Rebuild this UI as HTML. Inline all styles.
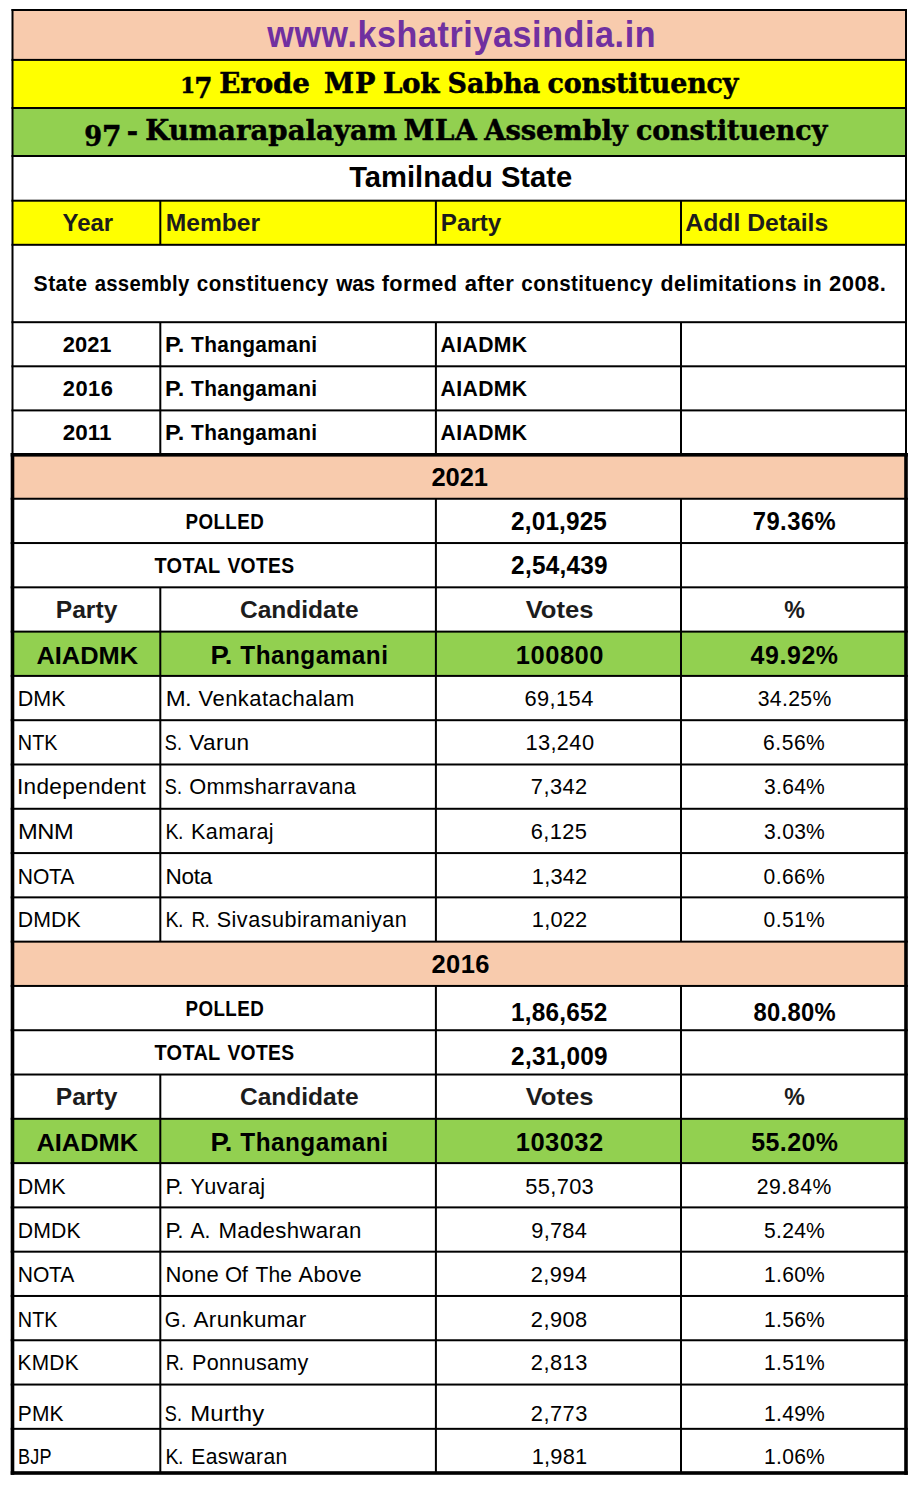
<!DOCTYPE html>
<html><head><meta charset="utf-8"><title>Kumarapalayam MLA Assembly constituency</title>
<style>
html,body{margin:0;padding:0;background:#fff;}
svg{display:block;}
text{white-space:pre;}
.r{font-family:'Liberation Sans',Arial,sans-serif;font-weight:normal;}
.b{font-family:'Liberation Sans',Arial,sans-serif;font-weight:bold;}
.g{font-family:'DejaVu Serif','Liberation Serif',serif;font-weight:bold;}
</style>
</head><body>
<svg width="916" height="1503" viewBox="0 0 916 1503">
<rect x="0" y="0" width="916" height="1503" fill="#fff"/>
<rect x="12.5" y="10" width="893.5" height="49.9" fill="#F8CBAD"/>
<rect x="12.5" y="59.9" width="893.5" height="48.1" fill="#FFFF00"/>
<rect x="12.5" y="108" width="893.5" height="48" fill="#92D050"/>
<rect x="12.5" y="200.7" width="893.5" height="44.1" fill="#FFFF00"/>
<rect x="12.5" y="454.8" width="893.5" height="43.95" fill="#F8CBAD"/>
<rect x="12.5" y="631.62" width="893.5" height="44.29" fill="#92D050"/>
<rect x="12.5" y="941.65" width="893.5" height="44.29" fill="#F8CBAD"/>
<rect x="12.5" y="1118.81" width="893.5" height="44.29" fill="#92D050"/>
<rect x="11.5" y="9" width="895.5" height="2"/>
<rect x="11.5" y="58.9" width="895.5" height="2"/>
<rect x="11.5" y="107" width="895.5" height="2"/>
<rect x="11.5" y="155" width="895.5" height="2"/>
<rect x="11.5" y="199.7" width="895.5" height="2"/>
<rect x="11.5" y="243.8" width="895.5" height="2"/>
<rect x="11.5" y="321.2" width="895.5" height="2"/>
<rect x="11.5" y="365.3" width="895.5" height="2"/>
<rect x="11.5" y="409.4" width="895.5" height="2"/>
<rect x="10.7" y="453" width="897.1" height="3.6"/>
<rect x="10.7" y="497.75" width="897.1" height="2"/>
<rect x="10.7" y="542.04" width="897.1" height="2"/>
<rect x="10.7" y="586.33" width="897.1" height="2"/>
<rect x="10.7" y="630.62" width="897.1" height="2"/>
<rect x="10.7" y="674.91" width="897.1" height="2"/>
<rect x="10.7" y="719.2" width="897.1" height="2"/>
<rect x="10.7" y="763.49" width="897.1" height="2"/>
<rect x="10.7" y="807.78" width="897.1" height="2"/>
<rect x="10.7" y="852.07" width="897.1" height="2"/>
<rect x="10.7" y="896.36" width="897.1" height="2"/>
<rect x="10.7" y="940.65" width="897.1" height="2"/>
<rect x="10.7" y="984.94" width="897.1" height="2"/>
<rect x="10.7" y="1029.23" width="897.1" height="2"/>
<rect x="10.7" y="1073.52" width="897.1" height="2"/>
<rect x="10.7" y="1117.81" width="897.1" height="2"/>
<rect x="10.7" y="1162.1" width="897.1" height="2"/>
<rect x="10.7" y="1206.39" width="897.1" height="2"/>
<rect x="10.7" y="1250.68" width="897.1" height="2"/>
<rect x="10.7" y="1294.97" width="897.1" height="2"/>
<rect x="10.7" y="1339.26" width="897.1" height="2"/>
<rect x="10.7" y="1383.55" width="897.1" height="2"/>
<rect x="10.7" y="1427.84" width="897.1" height="2"/>
<rect x="10.7" y="1471.2" width="897.1" height="3.6"/>
<rect x="11.5" y="9" width="2" height="445.8"/>
<rect x="905" y="9" width="2" height="445.8"/>
<rect x="10.7" y="453" width="3.6" height="1021.8"/>
<rect x="904.2" y="453" width="3.6" height="1021.8"/>
<rect x="159.3" y="200.7" width="2" height="44.1"/>
<rect x="159.3" y="322.2" width="2" height="132.6"/>
<rect x="434.9" y="200.7" width="2" height="44.1"/>
<rect x="434.9" y="322.2" width="2" height="132.6"/>
<rect x="680" y="200.7" width="2" height="44.1"/>
<rect x="680" y="322.2" width="2" height="132.6"/>
<rect x="159.3" y="587.33" width="2" height="354.32"/>
<rect x="159.3" y="1074.52" width="2" height="398.48"/>
<rect x="434.9" y="498.75" width="2" height="442.9"/>
<rect x="434.9" y="985.94" width="2" height="487.06"/>
<rect x="680" y="498.75" width="2" height="442.9"/>
<rect x="680" y="985.94" width="2" height="487.06"/>
<text class="b" transform="scale(0.939,1)" x="284.71" y="46.6" font-size="36.29" fill="#7030A0" textLength="413.41" lengthAdjust="spacing">www.kshatriyasindia.in</text>
<text class="g" x="180.35" y="92.8" font-size="22.1" stroke="#000" stroke-width="0.5" textLength="14.99" lengthAdjust="spacingAndGlyphs">1</text>
<text class="g" x="194.16" y="97.7" font-size="28.6" stroke="#000" stroke-width="0.5" textLength="18.28" lengthAdjust="spacingAndGlyphs">7</text>
<text class="g" transform="scale(1.0158,1)" x="215.84" y="92.6" font-size="27.3" stroke="#000" stroke-width="0.5" textLength="89.23" lengthAdjust="spacing">Erode</text>
<text class="g" transform="scale(0.9968,1)" x="325.16" y="92.6" font-size="27.3" stroke="#000" stroke-width="0.5" textLength="51.56" lengthAdjust="spacing">MP</text>
<text class="g" transform="scale(1.0172,1)" x="376.49" y="92.6" font-size="27.3" stroke="#000" stroke-width="0.5" textLength="55.55" lengthAdjust="spacing">Lok</text>
<text class="g" transform="scale(0.9874,1)" x="453.23" y="92.6" font-size="27.3" stroke="#000" stroke-width="0.5" textLength="93.97" lengthAdjust="spacing">Sabha</text>
<text class="g" transform="scale(0.9842,1)" x="556.31" y="92.6" font-size="27.3" stroke="#000" stroke-width="0.5" textLength="193.99" lengthAdjust="spacing">constituency</text>
<text class="g" x="84.2" y="145.7" font-size="28.6" stroke="#000" stroke-width="0.5" textLength="17.91" lengthAdjust="spacingAndGlyphs">9</text>
<text class="g" x="101.94" y="145.7" font-size="28.6" stroke="#000" stroke-width="0.5" textLength="19.52" lengthAdjust="spacingAndGlyphs">7</text>
<text class="g" x="126.78" y="140.5" font-size="27.3" stroke="#000" stroke-width="0.5" textLength="11.32" lengthAdjust="spacingAndGlyphs">-</text>
<text class="g" transform="scale(1.012,1)" x="143.59" y="140.5" font-size="27.3" stroke="#000" stroke-width="0.5" textLength="248.81" lengthAdjust="spacing">Kumarapalayam</text>
<text class="g" transform="scale(1.0251,1)" x="393.54" y="140.5" font-size="27.3" stroke="#000" stroke-width="0.5" textLength="71.46" lengthAdjust="spacing">MLA</text>
<text class="g" transform="scale(1.0062,1)" x="481.2" y="140.5" font-size="27.3" stroke="#000" stroke-width="0.5" textLength="142.75" lengthAdjust="spacing">Assembly</text>
<text class="g" transform="scale(0.9842,1)" x="646.12" y="140.5" font-size="27.3" stroke="#000" stroke-width="0.5" textLength="194.41" lengthAdjust="spacing">constituency</text>
<text class="b" x="349.2" y="187.4" font-size="29.33" textLength="223.01" lengthAdjust="spacingAndGlyphs">Tamilnadu State</text>
<text class="b" x="62.5" y="231.3" font-size="24" fill="#1c1c1c" textLength="50.64" lengthAdjust="spacingAndGlyphs">Year</text>
<text class="b" x="165.67" y="231.3" font-size="24" fill="#1c1c1c" textLength="94.48" lengthAdjust="spacingAndGlyphs">Member</text>
<text class="b" x="440.79" y="231.3" font-size="24" fill="#1c1c1c" textLength="60.55" lengthAdjust="spacingAndGlyphs">Party</text>
<text class="b" x="685.3" y="231.3" font-size="24" fill="#1c1c1c" textLength="142.96" lengthAdjust="spacingAndGlyphs">Addl Details</text>
<text class="b" transform="scale(0.9313,1)" x="36.08" y="290.6" font-size="22.8" textLength="57.4" lengthAdjust="spacing">State</text>
<text class="b" transform="scale(0.8924,1)" x="106.09" y="290.6" font-size="22.8" textLength="105.94" lengthAdjust="spacing">assembly</text>
<text class="b" transform="scale(0.9033,1)" x="217.86" y="290.6" font-size="22.8" textLength="145.54" lengthAdjust="spacing">constituency</text>
<text class="b" transform="scale(0.9122,1)" x="368.58" y="290.6" font-size="22.8" textLength="42.71" lengthAdjust="spacing">was</text>
<text class="b" transform="scale(0.9515,1)" x="401.3" y="290.6" font-size="22.8" textLength="78.97" lengthAdjust="spacing">formed</text>
<text class="b" transform="scale(0.9657,1)" x="481.14" y="290.6" font-size="22.8" textLength="50.87" lengthAdjust="spacing">after</text>
<text class="b" transform="scale(0.9033,1)" x="577.13" y="290.6" font-size="22.8" textLength="145.54" lengthAdjust="spacing">constituency</text>
<text class="b" transform="scale(0.937,1)" x="704.91" y="290.6" font-size="22.8" textLength="145.18" lengthAdjust="spacing">delimitations</text>
<text class="b" transform="scale(0.9267,1)" x="866.6" y="290.6" font-size="22.8" textLength="20.02" lengthAdjust="spacing">in</text>
<text class="b" transform="scale(0.9653,1)" x="858.92" y="290.6" font-size="22.8" textLength="58.84" lengthAdjust="spacing">2008.</text>
<text class="b" transform="scale(0.9594,1)" x="65.5" y="351.8" font-size="22.8" textLength="50.7" lengthAdjust="spacing">2021</text>
<text class="b" transform="scale(1.0314,1)" x="160.09" y="351.8" font-size="22.8" textLength="18.6" lengthAdjust="spacing">P.</text>
<text class="b" transform="scale(0.915,1)" x="208.8" y="351.8" font-size="22.8" textLength="137.75" lengthAdjust="spacing">Thangamani</text>
<text class="b" transform="scale(0.9291,1)" x="474.15" y="351.8" font-size="22.8" textLength="93.18" lengthAdjust="spacing">AIADMK</text>
<text class="b" transform="scale(0.9594,1)" x="65.5" y="396.4" font-size="22.8" textLength="52.09" lengthAdjust="spacing">2016</text>
<text class="b" transform="scale(1.0314,1)" x="160.09" y="396.4" font-size="22.8" textLength="18.6" lengthAdjust="spacing">P.</text>
<text class="b" transform="scale(0.915,1)" x="208.8" y="396.4" font-size="22.8" textLength="137.75" lengthAdjust="spacing">Thangamani</text>
<text class="b" transform="scale(0.9291,1)" x="474.15" y="396.4" font-size="22.8" textLength="93.18" lengthAdjust="spacing">AIADMK</text>
<text class="b" transform="scale(0.9838,1)" x="63.88" y="440.5" font-size="22.8" textLength="49.43" lengthAdjust="spacing">2011</text>
<text class="b" transform="scale(1.0314,1)" x="160.09" y="440.5" font-size="22.8" textLength="18.6" lengthAdjust="spacing">P.</text>
<text class="b" transform="scale(0.915,1)" x="208.8" y="440.5" font-size="22.8" textLength="137.75" lengthAdjust="spacing">Thangamani</text>
<text class="b" transform="scale(0.9291,1)" x="474.15" y="440.5" font-size="22.8" textLength="93.18" lengthAdjust="spacing">AIADMK</text>
<text class="b" transform="scale(0.9595,1)" x="449.71" y="485.6" font-size="26.6" textLength="58.92" lengthAdjust="spacing">2021</text>
<text class="b" transform="scale(0.8235,1)" x="225.31" y="529.24" font-size="22.8" textLength="94.95" lengthAdjust="spacing">POLLED</text>
<text class="b" transform="scale(0.9616,1)" x="531.54" y="529.64" font-size="25.34" textLength="99.59" lengthAdjust="spacing">2,01,925</text>
<text class="b" transform="scale(0.9382,1)" x="802.31" y="529.64" font-size="25.34" textLength="88.45" lengthAdjust="spacing">79.36%</text>
<text class="b" transform="scale(0.8757,1)" x="176.45" y="572.83" font-size="22.8" textLength="75.07" lengthAdjust="spacing">TOTAL</text>
<text class="b" transform="scale(0.8458,1)" x="268.84" y="572.83" font-size="22.8" textLength="78.96" lengthAdjust="spacing">VOTES</text>
<text class="b" transform="scale(0.9616,1)" x="531.54" y="573.63" font-size="25.34" textLength="100.4" lengthAdjust="spacing">2,54,439</text>
<text class="b" x="55.72" y="618.22" font-size="24" fill="#1c1c1c" textLength="61.66" lengthAdjust="spacingAndGlyphs">Party</text>
<text class="b" x="239.95" y="618.22" font-size="24" fill="#1c1c1c" textLength="118.66" lengthAdjust="spacingAndGlyphs">Candidate</text>
<text class="b" x="525.7" y="618.22" font-size="24" fill="#1c1c1c" textLength="67.87" lengthAdjust="spacingAndGlyphs">Votes</text>
<text class="b" x="784.35" y="618.22" font-size="24" fill="#1c1c1c" textLength="20.63" lengthAdjust="spacingAndGlyphs">%</text>
<text class="b" x="36.4" y="663.61" font-size="24.6" textLength="101.75" lengthAdjust="spacingAndGlyphs">AIADMK</text>
<text class="b" transform="scale(1.0315,1)" x="204.08" y="663.61" font-size="26.6" textLength="21.25" lengthAdjust="spacing">P.</text>
<text class="b" transform="scale(0.9151,1)" x="262.6" y="663.61" font-size="26.6" textLength="161.3" lengthAdjust="spacing">Thangamani</text>
<text class="b" transform="scale(0.9595,1)" x="537.59" y="663.61" font-size="26.6" textLength="91.39" lengthAdjust="spacing">100800</text>
<text class="b" transform="scale(0.9386,1)" x="799.65" y="663.61" font-size="26.6" textLength="93.21" lengthAdjust="spacing">49.92%</text>
<text class="r" transform="scale(0.9427,1)" x="18.76" y="706.4" font-size="22.8" textLength="50.86" lengthAdjust="spacing">DMK</text>
<text class="r" transform="scale(1.0495,1)" x="157.89" y="706.4" font-size="22.8" textLength="24.74" lengthAdjust="spacing">M.</text>
<text class="r" transform="scale(0.9657,1)" x="205.67" y="706.4" font-size="22.8" textLength="161.23" lengthAdjust="spacing">Venkatachalam</text>
<text class="r" transform="scale(0.9582,1)" x="547.27" y="706.4" font-size="22.8" textLength="71.92" lengthAdjust="spacing">69,154</text>
<text class="r" transform="scale(0.9296,1)" x="815.06" y="706.4" font-size="22.8" textLength="79.21" lengthAdjust="spacing">34.25%</text>
<text class="r" transform="scale(0.8698,1)" x="20.54" y="750.49" font-size="22.8" textLength="45.64" lengthAdjust="spacing">NTK</text>
<text class="r" transform="scale(0.7933,1)" x="207.56" y="750.49" font-size="22.8" textLength="21.98" lengthAdjust="spacing">S.</text>
<text class="r" transform="scale(0.9925,1)" x="190.8" y="750.49" font-size="22.8" textLength="60.24" lengthAdjust="spacing">Varun</text>
<text class="r" transform="scale(0.9582,1)" x="548.31" y="750.49" font-size="22.8" textLength="71.65" lengthAdjust="spacing">13,240</text>
<text class="r" transform="scale(0.9237,1)" x="826.14" y="750.49" font-size="22.8" textLength="66.85" lengthAdjust="spacing">6.56%</text>
<text class="r" transform="scale(0.9905,1)" x="17.14" y="794.48" font-size="22.8" textLength="129.98" lengthAdjust="spacing">Independent</text>
<text class="r" transform="scale(0.7933,1)" x="207.56" y="794.48" font-size="22.8" textLength="21.98" lengthAdjust="spacing">S.</text>
<text class="r" transform="scale(0.9566,1)" x="197.77" y="794.48" font-size="22.8" textLength="174.34" lengthAdjust="spacing">Ommsharravana</text>
<text class="r" transform="scale(0.9579,1)" x="554.2" y="794.48" font-size="22.8" textLength="58.82" lengthAdjust="spacing">7,342</text>
<text class="r" transform="scale(0.9237,1)" x="827.18" y="794.48" font-size="22.8" textLength="65.82" lengthAdjust="spacing">3.64%</text>
<text class="r" transform="scale(1.0384,1)" x="17.26" y="839.07" font-size="22.8" textLength="53.62" lengthAdjust="spacing">MNM</text>
<text class="r" transform="scale(0.8602,1)" x="192.28" y="839.07" font-size="22.8" textLength="20.93" lengthAdjust="spacing">K.</text>
<text class="r" transform="scale(0.9452,1)" x="202.1" y="839.07" font-size="22.8" textLength="87.44" lengthAdjust="spacing">Kamaraj</text>
<text class="r" transform="scale(0.9579,1)" x="554.13" y="839.07" font-size="22.8" textLength="58.48" lengthAdjust="spacing">6,125</text>
<text class="r" transform="scale(0.9237,1)" x="827.18" y="839.07" font-size="22.8" textLength="65.82" lengthAdjust="spacing">3.03%</text>
<text class="r" transform="scale(0.9242,1)" x="19.27" y="883.56" font-size="22.8" textLength="61.18" lengthAdjust="spacing">NOTA</text>
<text class="r" transform="scale(0.9902,1)" x="167.18" y="883.56" font-size="22.8" textLength="47.26" lengthAdjust="spacing">Nota</text>
<text class="r" transform="scale(0.9579,1)" x="555.17" y="883.56" font-size="22.8" textLength="57.86" lengthAdjust="spacing">1,342</text>
<text class="r" transform="scale(0.9237,1)" x="826.65" y="883.56" font-size="22.8" textLength="66.35" lengthAdjust="spacing">0.66%</text>
<text class="r" transform="scale(0.9314,1)" x="19" y="927.45" font-size="22.8" textLength="67.7" lengthAdjust="spacing">DMDK</text>
<text class="r" transform="scale(0.8602,1)" x="192.28" y="927.45" font-size="22.8" textLength="20.93" lengthAdjust="spacing">K.</text>
<text class="r" transform="scale(0.8374,1)" x="228.58" y="927.45" font-size="22.8" textLength="22.05" lengthAdjust="spacing">R.</text>
<text class="r" transform="scale(0.9481,1)" x="228.6" y="927.45" font-size="22.8" textLength="200.5" lengthAdjust="spacing">Sivasubiramaniyan</text>
<text class="r" transform="scale(0.9579,1)" x="555.17" y="927.45" font-size="22.8" textLength="57.86" lengthAdjust="spacing">1,022</text>
<text class="r" transform="scale(0.9237,1)" x="826.65" y="927.45" font-size="22.8" textLength="66.35" lengthAdjust="spacing">0.51%</text>
<text class="b" transform="scale(0.9595,1)" x="449.71" y="972.75" font-size="26.6" textLength="60.37" lengthAdjust="spacing">2016</text>
<text class="b" transform="scale(0.8235,1)" x="225.31" y="1016.43" font-size="22.8" textLength="94.95" lengthAdjust="spacing">POLLED</text>
<text class="b" transform="scale(0.9616,1)" x="531.46" y="1020.53" font-size="25.34" textLength="100.12" lengthAdjust="spacing">1,86,652</text>
<text class="b" transform="scale(0.9382,1)" x="803.02" y="1020.53" font-size="25.34" textLength="87.74" lengthAdjust="spacing">80.80%</text>
<text class="b" transform="scale(0.8757,1)" x="176.45" y="1060.02" font-size="22.8" textLength="75.07" lengthAdjust="spacing">TOTAL</text>
<text class="b" transform="scale(0.8458,1)" x="268.84" y="1060.02" font-size="22.8" textLength="78.96" lengthAdjust="spacing">VOTES</text>
<text class="b" transform="scale(0.9616,1)" x="531.54" y="1064.52" font-size="25.34" textLength="100.4" lengthAdjust="spacing">2,31,009</text>
<text class="b" x="55.72" y="1105.41" font-size="24" fill="#1c1c1c" textLength="61.66" lengthAdjust="spacingAndGlyphs">Party</text>
<text class="b" x="239.95" y="1105.41" font-size="24" fill="#1c1c1c" textLength="118.66" lengthAdjust="spacingAndGlyphs">Candidate</text>
<text class="b" x="525.7" y="1105.41" font-size="24" fill="#1c1c1c" textLength="67.87" lengthAdjust="spacingAndGlyphs">Votes</text>
<text class="b" x="784.35" y="1105.41" font-size="24" fill="#1c1c1c" textLength="20.63" lengthAdjust="spacingAndGlyphs">%</text>
<text class="b" x="36.4" y="1150.8" font-size="24.6" textLength="101.75" lengthAdjust="spacingAndGlyphs">AIADMK</text>
<text class="b" transform="scale(1.0315,1)" x="204.08" y="1150.8" font-size="26.6" textLength="21.25" lengthAdjust="spacing">P.</text>
<text class="b" transform="scale(0.9151,1)" x="262.6" y="1150.8" font-size="26.6" textLength="161.3" lengthAdjust="spacing">Thangamani</text>
<text class="b" transform="scale(0.9595,1)" x="537.59" y="1150.8" font-size="26.6" textLength="90.98" lengthAdjust="spacing">103032</text>
<text class="b" transform="scale(0.9386,1)" x="800.29" y="1150.8" font-size="26.6" textLength="92.57" lengthAdjust="spacing">55.20%</text>
<text class="r" transform="scale(0.9427,1)" x="18.76" y="1193.79" font-size="22.8" textLength="50.86" lengthAdjust="spacing">DMK</text>
<text class="r" transform="scale(0.9923,1)" x="166.81" y="1193.79" font-size="22.8" textLength="18.15" lengthAdjust="spacing">P.</text>
<text class="r" transform="scale(0.9501,1)" x="200.49" y="1193.79" font-size="22.8" textLength="78.59" lengthAdjust="spacing">Yuvaraj</text>
<text class="r" transform="scale(0.9582,1)" x="548.28" y="1193.79" font-size="22.8" textLength="71.37" lengthAdjust="spacing">55,703</text>
<text class="r" transform="scale(0.9296,1)" x="814.03" y="1193.79" font-size="22.8" textLength="80.25" lengthAdjust="spacing">29.84%</text>
<text class="r" transform="scale(0.9314,1)" x="19" y="1237.78" font-size="22.8" textLength="67.7" lengthAdjust="spacing">DMDK</text>
<text class="r" transform="scale(0.9923,1)" x="166.81" y="1237.78" font-size="22.8" textLength="18.15" lengthAdjust="spacing">P.</text>
<text class="r" transform="scale(0.926,1)" x="205.81" y="1237.78" font-size="22.8" textLength="21.38" lengthAdjust="spacing">A.</text>
<text class="r" transform="scale(0.9755,1)" x="223.89" y="1237.78" font-size="22.8" textLength="146.45" lengthAdjust="spacing">Madeshwaran</text>
<text class="r" transform="scale(0.9579,1)" x="554.61" y="1237.78" font-size="22.8" textLength="58.07" lengthAdjust="spacing">9,784</text>
<text class="r" transform="scale(0.9237,1)" x="827.16" y="1237.78" font-size="22.8" textLength="65.84" lengthAdjust="spacing">5.24%</text>
<text class="r" transform="scale(0.9242,1)" x="19.27" y="1281.87" font-size="22.8" textLength="61.18" lengthAdjust="spacing">NOTA</text>
<text class="r" transform="scale(0.967,1)" x="171.22" y="1281.87" font-size="22.8" textLength="54.9" lengthAdjust="spacing">None</text>
<text class="r" transform="scale(0.9646,1)" x="233.24" y="1281.87" font-size="22.8" textLength="23.67" lengthAdjust="spacing">Of</text>
<text class="r" transform="scale(0.9227,1)" x="276.86" y="1281.87" font-size="22.8" textLength="39.63" lengthAdjust="spacing">The</text>
<text class="r" transform="scale(0.9581,1)" x="311.66" y="1281.87" font-size="22.8" textLength="65.88" lengthAdjust="spacing">Above</text>
<text class="r" transform="scale(0.9579,1)" x="554.13" y="1281.87" font-size="22.8" textLength="58.54" lengthAdjust="spacing">2,994</text>
<text class="r" transform="scale(0.9237,1)" x="827.22" y="1281.87" font-size="22.8" textLength="65.78" lengthAdjust="spacing">1.60%</text>
<text class="r" transform="scale(0.8698,1)" x="20.54" y="1326.66" font-size="22.8" textLength="45.64" lengthAdjust="spacing">NTK</text>
<text class="r" transform="scale(0.8809,1)" x="187.11" y="1326.66" font-size="22.8" textLength="24.34" lengthAdjust="spacing">G.</text>
<text class="r" transform="scale(0.9869,1)" x="196.03" y="1326.66" font-size="22.8" textLength="114.23" lengthAdjust="spacing">Arunkumar</text>
<text class="r" transform="scale(0.9579,1)" x="554.13" y="1326.66" font-size="22.8" textLength="58.96" lengthAdjust="spacing">2,908</text>
<text class="r" transform="scale(0.9237,1)" x="827.22" y="1326.66" font-size="22.8" textLength="65.78" lengthAdjust="spacing">1.56%</text>
<text class="r" transform="scale(0.9144,1)" x="19.18" y="1370.35" font-size="22.8" textLength="66.79" lengthAdjust="spacing">KMDK</text>
<text class="r" transform="scale(0.8374,1)" x="197.86" y="1370.35" font-size="22.8" textLength="22.05" lengthAdjust="spacing">R.</text>
<text class="r" transform="scale(0.9453,1)" x="203.2" y="1370.35" font-size="22.8" textLength="123.05" lengthAdjust="spacing">Ponnusamy</text>
<text class="r" transform="scale(0.9579,1)" x="554.13" y="1370.35" font-size="22.8" textLength="59.01" lengthAdjust="spacing">2,813</text>
<text class="r" transform="scale(0.9237,1)" x="827.22" y="1370.35" font-size="22.8" textLength="65.78" lengthAdjust="spacing">1.51%</text>
<text class="r" transform="scale(0.9187,1)" x="19.38" y="1420.84" font-size="22.8" textLength="49.67" lengthAdjust="spacing">PMK</text>
<text class="r" transform="scale(0.7933,1)" x="207.56" y="1420.84" font-size="22.8" textLength="21.98" lengthAdjust="spacing">S.</text>
<text class="r" transform="scale(1.0479,1)" x="181.52" y="1420.84" font-size="22.8" textLength="70.6" lengthAdjust="spacing">Murthy</text>
<text class="r" transform="scale(0.9579,1)" x="554.13" y="1420.84" font-size="22.8" textLength="59.01" lengthAdjust="spacing">2,773</text>
<text class="r" transform="scale(0.9237,1)" x="827.22" y="1420.84" font-size="22.8" textLength="65.78" lengthAdjust="spacing">1.49%</text>
<text class="r" transform="scale(0.7918,1)" x="22.6" y="1463.7" font-size="22.8" textLength="42.38" lengthAdjust="spacing">BJP</text>
<text class="r" transform="scale(0.8602,1)" x="192.28" y="1463.7" font-size="22.8" textLength="20.93" lengthAdjust="spacing">K.</text>
<text class="r" transform="scale(0.9246,1)" x="206.91" y="1463.7" font-size="22.8" textLength="103.62" lengthAdjust="spacing">Easwaran</text>
<text class="r" transform="scale(0.9579,1)" x="555.17" y="1463.7" font-size="22.8" textLength="57.79" lengthAdjust="spacing">1,981</text>
<text class="r" transform="scale(0.9237,1)" x="827.22" y="1463.7" font-size="22.8" textLength="65.78" lengthAdjust="spacing">1.06%</text>
</svg>
</body></html>
